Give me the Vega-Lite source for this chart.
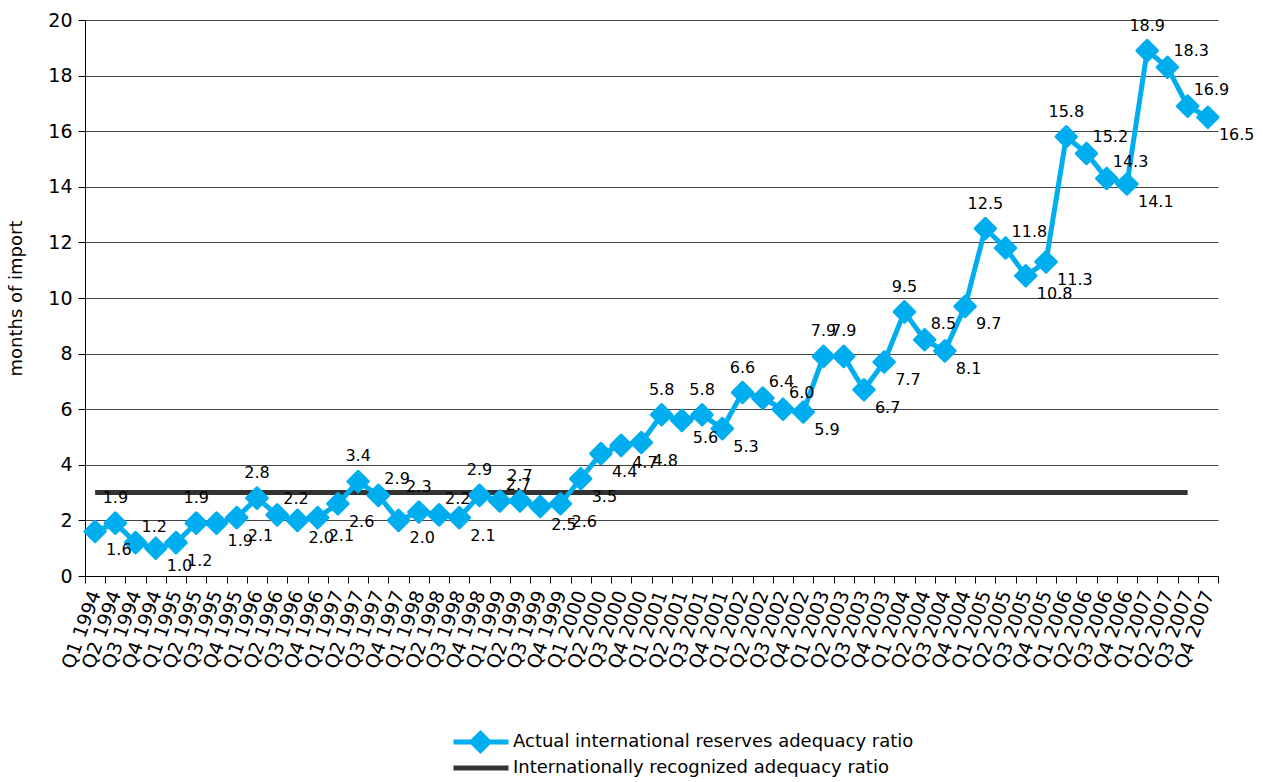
{
  "$schema": "https://vega.github.io/schema/vega-lite/v6.json",
  "width": 1133,
  "height": 556,
  "autosize": "none",
  "padding": {"left": 85, "top": 20, "right": 45, "bottom": 206},
  "background": "white",
  "config": {
    "font": "DejaVu Sans",
    "view": {"stroke": null},
    "text": {"font": "DejaVu Sans"},
    "axis": {"labelColor": "#000", "titleColor": "#000", "labelFont": "DejaVu Sans", "titleFont": "DejaVu Sans"},
    "legend": {"labelFont": "DejaVu Sans"}
  },
  "data": {
    "values": [
      {"quarter": "Q1 1994", "actual": 1.6, "standard": 3},
      {"quarter": "Q2 1994", "actual": 1.9, "standard": 3},
      {"quarter": "Q3 1994", "actual": 1.2, "standard": 3},
      {"quarter": "Q4 1994", "actual": 1.0, "standard": 3},
      {"quarter": "Q1 1995", "actual": 1.2, "standard": 3},
      {"quarter": "Q2 1995", "actual": 1.9, "standard": 3},
      {"quarter": "Q3 1995", "actual": 1.9, "standard": 3},
      {"quarter": "Q4 1995", "actual": 2.1, "standard": 3},
      {"quarter": "Q1 1996", "actual": 2.8, "standard": 3},
      {"quarter": "Q2 1996", "actual": 2.2, "standard": 3},
      {"quarter": "Q3 1996", "actual": 2.0, "standard": 3},
      {"quarter": "Q4 1996", "actual": 2.1, "standard": 3},
      {"quarter": "Q1 1997", "actual": 2.6, "standard": 3},
      {"quarter": "Q2 1997", "actual": 3.4, "standard": 3},
      {"quarter": "Q3 1997", "actual": 2.9, "standard": 3},
      {"quarter": "Q4 1997", "actual": 2.0, "standard": 3},
      {"quarter": "Q1 1998", "actual": 2.3, "standard": 3},
      {"quarter": "Q2 1998", "actual": 2.2, "standard": 3},
      {"quarter": "Q3 1998", "actual": 2.1, "standard": 3},
      {"quarter": "Q4 1998", "actual": 2.9, "standard": 3},
      {"quarter": "Q1 1999", "actual": 2.7, "standard": 3},
      {"quarter": "Q2 1999", "actual": 2.7, "standard": 3},
      {"quarter": "Q3 1999", "actual": 2.5, "standard": 3},
      {"quarter": "Q4 1999", "actual": 2.6, "standard": 3},
      {"quarter": "Q1 2000", "actual": 3.5, "standard": 3},
      {"quarter": "Q2 2000", "actual": 4.4, "standard": 3},
      {"quarter": "Q3 2000", "actual": 4.7, "standard": 3},
      {"quarter": "Q4 2000", "actual": 4.8, "standard": 3},
      {"quarter": "Q1 2001", "actual": 5.8, "standard": 3},
      {"quarter": "Q2 2001", "actual": 5.6, "standard": 3},
      {"quarter": "Q3 2001", "actual": 5.8, "standard": 3},
      {"quarter": "Q4 2001", "actual": 5.3, "standard": 3},
      {"quarter": "Q1 2002", "actual": 6.6, "standard": 3},
      {"quarter": "Q2 2002", "actual": 6.4, "standard": 3},
      {"quarter": "Q3 2002", "actual": 6.0, "standard": 3},
      {"quarter": "Q4 2002", "actual": 5.9, "standard": 3},
      {"quarter": "Q1 2003", "actual": 7.9, "standard": 3},
      {"quarter": "Q2 2003", "actual": 7.9, "standard": 3},
      {"quarter": "Q3 2003", "actual": 6.7, "standard": 3},
      {"quarter": "Q4 2003", "actual": 7.7, "standard": 3},
      {"quarter": "Q1 2004", "actual": 9.5, "standard": 3},
      {"quarter": "Q2 2004", "actual": 8.5, "standard": 3},
      {"quarter": "Q3 2004", "actual": 8.1, "standard": 3},
      {"quarter": "Q4 2004", "actual": 9.7, "standard": 3},
      {"quarter": "Q1 2005", "actual": 12.5, "standard": 3},
      {"quarter": "Q2 2005", "actual": 11.8, "standard": 3},
      {"quarter": "Q3 2005", "actual": 10.8, "standard": 3},
      {"quarter": "Q4 2005", "actual": 11.3, "standard": 3},
      {"quarter": "Q1 2006", "actual": 15.8, "standard": 3},
      {"quarter": "Q2 2006", "actual": 15.2, "standard": 3},
      {"quarter": "Q3 2006", "actual": 14.3, "standard": 3},
      {"quarter": "Q4 2006", "actual": 14.1, "standard": 3},
      {"quarter": "Q1 2007", "actual": 18.9, "standard": 3},
      {"quarter": "Q2 2007", "actual": 18.3, "standard": 3},
      {"quarter": "Q3 2007", "actual": 16.9, "standard": 3},
      {"quarter": "Q4 2007", "actual": 16.5, "standard": null}
    ]
  },
  "encoding": {
    "x": {
      "field": "quarter",
      "type": "ordinal",
      "sort": null,
      "scale": {"type": "band", "paddingInner": 0, "paddingOuter": 0},
      "axis": {
        "title": null,
        "labelAngle": -70,
        "labelFontSize": 19,
        "labelPadding": 8,
        "tickBand": "extent",
        "tickSize": 7,
        "tickColor": "#000",
        "domainColor": "#000",
        "labelOverlap": false,
        "grid": false
      }
    }
  },
  "layer": [
    {
      "transform": [{"filter": "datum.standard != null"}, {"calculate": "'standard'", "as": "series"}],
      "mark": {"type": "line", "strokeWidth": 5, "strokeCap": "butt"},
      "encoding": {
        "y": {
          "field": "standard",
          "type": "quantitative",
          "scale": {"domain": [0, 20], "nice": false},
          "axis": {
            "title": "months of import",
            "titleFontSize": 18,
            "titleFontWeight": "normal",
            "titlePadding": 22,
            "values": [0, 2, 4, 6, 8, 10, 12, 14, 16, 18, 20],
            "labelFontSize": 19,
            "labelPadding": 6,
            "tickSize": 7,
            "tickColor": "#000",
            "domainColor": "#000",
            "grid": true,
            "gridColor": "#444",
            "gridWidth": 1
          }
        },
        "color": {
          "field": "series",
          "type": "nominal",
          "scale": {"domain": ["actual", "standard"], "range": ["#00AEEF", "#333333"]},
          "legend": {
            "title": null,
            "orient": "none",
            "legendX": 366,
            "legendY": 709,
            "direction": "vertical",
            "rowPadding": 0,
            "clipHeight": 26,
            "symbolSize": 400,
            "symbolStrokeWidth": 5,
            "labelOffset": 37,
            "labelFontSize": 18,
            "labelColor": "#000",
            "labelLimit": 600,
            "labelExpr": "datum.value == 'actual' ? 'Actual international reserves adequacy ratio' : 'Internationally recognized adequacy ratio'",
            "encode": {
              "symbols": {
                "update": {
                  "shape": {"signal": "datum.value == 'actual' ? 'M-1,0H4.5M0.85,0L1.7,-0.85L2.55,0L1.7,0.85Z' : 'M-1,0H4.5'"},
                  "fill": {"signal": "datum.value == 'actual' ? '#00AEEF' : 'transparent'"},
                  "strokeWidth": {"value": 5}
                }
              }
            }
          }
        }
      }
    },
    {
      "transform": [{"calculate": "'actual'", "as": "series"}],
      "mark": {"type": "line", "strokeWidth": 5, "strokeJoin": "round"},
      "encoding": {
        "y": {"field": "actual", "type": "quantitative"},
        "color": {"field": "series", "type": "nominal"}
      }
    },
    {
      "mark": {"type": "point", "shape": "diamond", "filled": true, "size": 420, "color": "#00AEEF", "stroke": "#00AEEF", "strokeWidth": 3, "strokeJoin": "round", "opacity": 1},
      "encoding": {
        "y": {"field": "actual", "type": "quantitative"}
      }
    },
    {
      "transform": [
        {"window": [{"op": "lag", "field": "actual", "as": "prev"}, {"op": "lead", "field": "actual", "as": "next"}]},
        {"calculate": "((datum.prev == null || datum.actual >= datum.prev) && (datum.next == null || datum.actual >= datum.next)) ? 'above' : ((datum.next != null && datum.actual < datum.prev && datum.next <= datum.actual) ? 'ar' : 'br')", "as": "pos"}
      ],
      "layer": [
        {
          "transform": [{"filter": "datum.pos == 'above'"}],
          "mark": {"type": "text", "fontSize": 16, "color": "#000", "dy": -25, "align": "center"},
          "encoding": {"y": {"field": "actual", "type": "quantitative"}, "text": {"field": "actual", "type": "quantitative", "format": ".1f"}}
        },
        {
          "transform": [{"filter": "datum.pos == 'ar'"}],
          "mark": {"type": "text", "fontSize": 16, "color": "#000", "dx": 6, "dy": -16, "align": "left"},
          "encoding": {"y": {"field": "actual", "type": "quantitative"}, "text": {"field": "actual", "type": "quantitative", "format": ".1f"}}
        },
        {
          "transform": [{"filter": "datum.pos == 'br'"}],
          "mark": {"type": "text", "fontSize": 16, "color": "#000", "dx": 11, "dy": 18, "align": "left"},
          "encoding": {"y": {"field": "actual", "type": "quantitative"}, "text": {"field": "actual", "type": "quantitative", "format": ".1f"}}
        }
      ]
    }
  ]
}
